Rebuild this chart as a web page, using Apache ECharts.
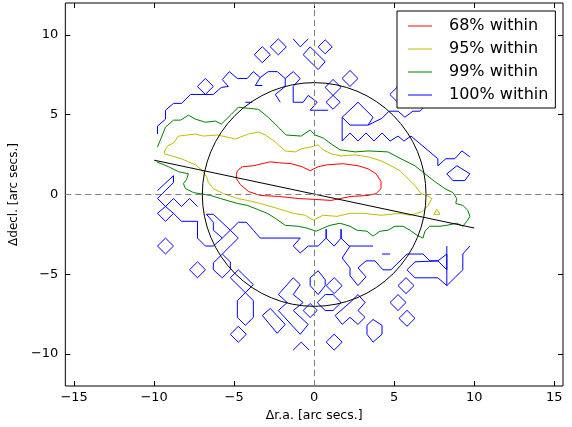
<!DOCTYPE html>
<html>
<head>
<meta charset="utf-8">
<script src="https://cdn.jsdelivr.net/npm/echarts@6/dist/echarts.min.js"></script>
<style>html,body{margin:0;padding:0;background:#fff}#c{width:572px;height:427px}</style>
</head>
<body>
<div id="c"></div>
<script>
// ---- data (arc secs) ----
const xTicks = [-15, -10, -5, 0, 5, 10, 15];
const yTicks = [-10, -5, 0, 5, 10];
const xRange = [-15.55, 15.55];
const yRange = [-12, 12];
const levelNames = ['68% within', '95% within', '99% within', '100% within'];
const levelColors = ['#ff0000', '#bfbf00', '#008000', '#0000ff'];

const circleCenter = [0, 0];
const circleRadius = 7;
const fitLine = [[-10, 2.15], [10, -2.1]];

const contour68 = [
  [[-4.86,1.24],[-4.80,1.49],[-4.49,1.74],[-3.80,1.80],[-2.74,2.05],[-2.24,1.99],[-1.43,1.93],[-0.75,1.74],[-0.25,1.49],[0.25,1.74],[0.81,1.86],[1.81,1.93],[2.74,1.80],[3.37,1.61],[3.87,1.30],[4.18,0.81],[4.18,0.37],[3.87,0.06],[3.37,-0.06],[2.31,-0.12],[1.06,-0.37],[0.06,-0.31],[-1.00,-0.25],[-2.24,-0.12],[-3.37,-0.06],[-4.11,0.19],[-4.61,0.62],[-4.86,0.99],[-4.86,1.24]]
];

const contour95 = [
  [[-9.35,2.73],[-9.16,3.04],[-8.79,3.23],[-8.48,3.66],[-7.42,3.79],[-6.92,3.66],[-6.05,3.73],[-4.92,3.48],[-4.11,3.79],[-3.49,3.91],[-3.05,3.73],[-2.43,3.29],[-1.81,2.73],[-1.18,2.67],[-0.81,2.86],[-0.19,2.98],[0.25,3.11],[0.56,2.80],[1.06,2.55],[1.68,2.42],[2.56,2.48],[3.37,2.36],[4.18,2.11],[4.80,1.80],[5.36,1.49],[5.86,0.99],[6.30,0.56],[6.67,0.06],[7.04,-0.06],[7.36,-0.25],[7.11,-0.68],[6.80,-1.06],[5.99,-1.30],[5.36,-1.18],[4.18,-1.30],[3.05,-1.18],[2.24,-1.18],[1.43,-1.37],[0.56,-1.30],[-0.06,-1.61],[-0.56,-1.30],[-1.31,-1.18],[-2.31,-0.87],[-3.37,-0.56],[-4.18,-0.37],[-4.80,-0.25],[-5.67,0.06],[-6.30,0.37],[-6.61,0.75],[-6.73,1.12],[-7.04,1.55],[-7.42,1.86],[-8.29,2.24],[-8.91,2.42],[-9.35,2.55],[-9.35,2.73]],
  [[7.48,-1.24],[7.67,-0.93],[7.86,-1.24],[7.48,-1.24]]
];

const contour99 = [
  [[-9.79,2.98],[-9.54,3.60],[-9.29,4.22],[-8.79,4.66],[-8.35,4.66],[-7.86,4.97],[-7.42,4.72],[-6.80,4.53],[-6.17,4.60],[-5.80,4.41],[-5.17,5.03],[-4.74,5.47],[-4.11,5.40],[-3.49,5.34],[-2.87,4.84],[-2.24,4.22],[-1.75,3.73],[-0.81,3.66],[-0.25,4.04],[0.06,3.73],[0.56,3.54],[1.06,3.17],[1.62,2.80],[2.56,2.67],[3.37,2.73],[4.61,2.67],[5.42,2.24],[6.30,1.80],[6.92,1.30],[7.54,0.81],[8.17,0.37],[8.67,0.12],[8.91,-0.25],[8.85,-0.56],[9.29,-0.68],[9.60,-0.99],[9.73,-1.37],[9.54,-1.68],[9.29,-1.99],[8.91,-1.80],[8.29,-1.93],[7.86,-1.99],[7.23,-1.99],[6.92,-2.30],[6.80,-2.73],[6.42,-2.55],[5.99,-2.24],[5.55,-1.99],[5.05,-1.99],[4.61,-2.24],[4.11,-2.30],[3.68,-2.61],[3.30,-2.30],[2.68,-2.24],[2.24,-1.99],[1.62,-1.80],[1.00,-1.93],[0.56,-2.11],[0.12,-2.30],[-0.44,-2.11],[-1.00,-1.99],[-1.81,-1.93],[-2.43,-1.49],[-2.93,-1.18],[-3.55,-0.93],[-4.18,-0.68],[-4.80,-0.56],[-5.86,-0.25],[-6.48,-0.06],[-7.54,0.12],[-8.04,0.37],[-8.17,0.68],[-7.98,0.93],[-7.86,1.30],[-8.48,1.43],[-9.10,1.74],[-9.85,2.05]]
];

const contour100 = [
  [[-9.79,3.79],[-9.79,4.29],[-9.29,4.72],[-9.29,5.28],[-8.79,5.71],[-8.29,5.71],[-7.73,6.27],[-6.30,6.27],[-5.80,6.71],[-5.36,6.77],[-5.74,7.20],[-5.30,7.70],[-4.80,7.27],[-4.18,7.27],[-3.80,7.70],[-3.37,7.33],[-2.87,7.70],[-2.31,7.70],[-1.81,7.27],[-1.31,7.70],[-0.87,7.27],[-1.31,6.77],[-1.31,5.78],[-0.69,5.78],[-0.37,6.21],[0.19,5.78],[-0.25,5.28],[0.87,5.28]],
  [[-3.37,7.33],[-3.68,6.83],[-3.24,6.83]],
  [[-1.81,7.27],[-1.81,6.77],[-2.43,6.27],[-2.12,5.78]],
  [[-4.30,5.78],[-3.87,5.78]],
  [[-7.30,6.77],[-6.80,7.27],[-6.30,6.77],[-6.80,6.27],[-7.30,6.77]],
  [[-3.74,8.76],[-3.24,9.26],[-2.74,8.76],[-3.24,8.26],[-3.74,8.76]],
  [[-2.74,9.25],[-2.24,9.75],[-1.74,9.25],[-2.24,8.75],[-2.74,9.25]],
  [[-1.31,9.75],[-0.87,9.25],[-0.37,9.75]],
  [[-0.69,8.76],[-0.25,9.25],[0.69,8.32],[0.25,7.83],[-0.69,8.76]],
  [[0.25,9.25],[0.69,9.69],[1.13,9.25],[0.69,8.81],[0.25,9.25]],
  [[1.74,7.27],[2.24,7.77],[2.74,7.27],[2.24,6.77],[1.74,7.27]],
  [[0.68,6.71],[1.18,7.21],[1.68,6.71],[1.18,6.21],[0.68,6.71]],
  [[0.74,5.78],[1.18,6.21],[1.62,5.78],[1.18,5.34],[0.74,5.78]],
  [[1.75,4.84],[2.74,5.78],[3.68,4.84],[3.37,4.35],[2.24,4.35],[1.75,4.84]],
  [[1.75,4.84],[1.75,3.35],[2.24,3.85],[2.74,3.35],[3.24,3.85],[3.74,3.35],[4.24,3.85],[4.74,3.35],[5.24,3.66],[5.61,3.35],[6.05,3.66],[7.73,2.24],[7.73,1.80],[8.23,2.24],[8.79,2.24],[9.23,2.73],[9.73,2.36]],
  [[8.29,1.30],[8.92,1.80],[9.73,1.30],[9.41,0.87],[8.67,0.87],[8.29,1.30]],
  [[3.37,4.35],[4.24,4.78],[4.68,5.22],[5.24,5.22],[5.67,4.84],[6.17,5.22],[6.61,5.22],[6.92,5.53]],
  [[4.73,6.27],[5.17,6.71],[5.61,6.27],[5.17,5.83],[4.73,6.27]],
  [[-9.79,0.25],[-8.79,1.18],[-8.79,0.75],[-9.79,-0.25],[-9.29,-0.75],[-8.79,-0.25],[-8.29,-0.75],[-7.79,-0.25],[-7.29,-0.75]],
  [[-9.79,-1.18],[-9.29,-0.75],[-8.79,-1.18],[-8.29,-1.68],[-7.29,-1.68],[-7.29,-2.73],[-6.80,-3.23],[-6.30,-3.23],[-5.74,-2.73]],
  [[-9.79,-1.18],[-9.29,-1.68],[-8.79,-1.18]],
  [[-6.73,-1.24],[-6.30,-1.24],[-5.24,-2.24],[-4.74,-1.74],[-4.24,-1.74],[-3.80,-2.24],[-3.37,-2.73],[-0.87,-2.73],[-1.31,-3.23],[-0.87,-3.66],[-0.37,-3.23],[0.25,-3.23],[0.75,-2.73],[0.75,-2.17],[0.75,-2.73],[1.25,-3.23],[1.68,-2.73],[1.68,-2.17],[1.68,-2.73],[2.18,-3.23],[3.68,-3.23]],
  [[-6.73,-1.24],[-6.30,-1.74],[-6.30,-2.24],[-5.74,-2.73],[-5.24,-2.24],[-4.74,-2.73],[-5.24,-3.23],[-5.74,-3.73]],
  [[-6.30,-4.29],[-5.74,-3.73],[-5.24,-4.22],[-5.24,-4.72],[-5.74,-5.22],[-6.30,-4.72],[-6.30,-4.29]],
  [[-5.24,-5.22],[-4.74,-4.72],[-3.80,-5.65],[-4.30,-6.15],[-5.24,-5.22]],
  [[-4.80,-6.65],[-4.30,-6.15],[-3.80,-6.65],[-3.80,-7.70],[-4.30,-8.20],[-4.80,-7.70],[-4.80,-6.65]],
  [[-5.24,-8.76],[-4.74,-8.26],[-4.24,-8.76],[-4.74,-9.26],[-5.24,-8.76]],
  [[-7.79,-4.72],[-7.29,-4.22],[-6.79,-4.72],[-7.29,-5.22],[-7.79,-4.72]],
  [[-9.79,-3.23],[-9.29,-2.73],[-8.79,-3.23],[-9.29,-3.73],[-9.79,-3.23]],
  [[-1.31,-5.22],[-0.87,-5.65],[-1.31,-6.27],[-0.69,-6.77],[-1.31,-7.27],[-0.37,-8.14],[-0.87,-8.76],[-2.24,-7.27],[-1.68,-6.77],[-2.24,-6.27],[-1.31,-5.22]],
  [[-3.24,-7.58],[-2.74,-7.14],[-1.81,-8.14],[-2.31,-8.70],[-3.24,-7.58]],
  [[-0.69,-7.27],[-0.25,-6.83],[0.19,-7.27],[-0.25,-7.71],[-0.69,-7.27]],
  [[-0.25,-5.22],[0.25,-4.78],[0.69,-5.34],[0.69,-5.71],[0.25,-6.27],[-0.25,-5.71],[-0.25,-5.22]],
  [[0.75,-5.71],[1.25,-5.21],[1.75,-5.71],[1.25,-6.21],[0.75,-5.71]],
  [[0.19,-6.77],[0.69,-6.27],[1.18,-6.27],[1.68,-6.77],[1.18,-7.27],[0.69,-7.27],[0.19,-6.77]],
  [[1.31,-7.58],[2.24,-6.77],[2.74,-6.27],[3.18,-6.77],[2.74,-7.27],[3.18,-7.70],[2.74,-8.14],[2.24,-7.70],[1.75,-8.14],[1.31,-7.58]],
  [[3.30,-8.20],[3.68,-7.83],[4.24,-8.20],[4.24,-8.76],[3.68,-9.25],[3.30,-8.76],[3.30,-8.20]],
  [[0.75,-9.25],[1.25,-8.75],[1.75,-9.25],[1.25,-9.75],[0.75,-9.25]],
  [[-1.31,-9.75],[-0.81,-9.25],[-0.31,-9.75]],
  [[2.24,-3.23],[1.75,-3.98],[2.24,-4.60],[2.24,-5.09],[2.74,-5.71],[3.24,-5.16],[2.74,-4.60],[3.24,-4.16],[3.80,-4.16],[4.30,-4.72],[4.80,-4.72],[5.80,-3.73],[6.80,-3.73],[7.23,-4.16],[7.73,-4.16]],
  [[4.24,-3.73],[4.74,-3.73]],
  [[9.73,-3.23],[9.29,-3.73],[9.29,-4.72],[8.29,-5.71],[7.73,-5.22],[6.30,-5.22],[5.80,-4.72],[6.30,-4.22],[7.73,-4.16]],
  [[7.73,-4.16],[8.29,-3.73],[8.29,-4.72],[7.73,-4.16]],
  [[8.29,-3.23],[8.29,-5.71]],
  [[5.24,-5.71],[5.74,-5.21],[6.24,-5.71],[5.74,-6.21],[5.24,-5.71]],
  [[4.74,-6.77],[5.24,-6.27],[5.74,-6.77],[5.24,-7.27],[4.74,-6.77]],
  [[5.30,-7.76],[5.80,-7.26],[6.30,-7.76],[5.80,-8.26],[5.30,-7.76]]
];

const contours = [contour68, contour95, contour99, contour100];

// ---- chart ----
const FONT = 'DejaVu Sans';
const fmt = v => (v < 0 ? '\u2212' + Math.abs(v) : String(v));
const chart = echarts.init(document.getElementById('c'), null, {renderer: 'canvas'});

const series = [];
series.push({
  type: 'line', data: [], silent: true, z: 1,
  markLine: {
    silent: true, symbol: 'none', animation: false,
    label: {show: false},
    lineStyle: {color: '#808080', type: [6, 4], width: 1},
    data: [{xAxis: 0}, {yAxis: 0}]
  }
});
contours.forEach((pieces, li) => {
  pieces.forEach(pts => {
    series.push({
      name: levelNames[li], type: 'line', data: pts,
      showSymbol: false, symbol: 'none', silent: true, animation: false, z: 3,
      lineStyle: {color: levelColors[li], width: 1},
      itemStyle: {color: levelColors[li]}
    });
  });
});
series.push({
  type: 'custom', silent: true, animation: false, z: 4,
  data: [circleCenter],
  renderItem: (params, api) => {
    const c = api.coord([api.value(0), api.value(1)]);
    const s = api.size([circleRadius, circleRadius]);
    return {type: 'circle', shape: {cx: c[0], cy: c[1], r: (s[0] + s[1]) / 2},
      style: {fill: 'none', stroke: '#000', lineWidth: 1}};
  }
});
series.push({
  type: 'line', data: fitLine, showSymbol: false, symbol: 'none', silent: true, animation: false, z: 4,
  lineStyle: {color: '#000', width: 1}
});

const tickStyle = {show: true, inside: true, length: 5, lineStyle: {color: '#000', width: 1}};
const noLine = {show: false, onZero: false};
const option = {
  animation: false,
  backgroundColor: '#fff',
  grid: {left: 64, right: 9, top: 3, bottom: 38, show: true, borderColor: '#000', borderWidth: 1, backgroundColor: 'transparent'},
  legend: {
    data: levelNames, orient: 'vertical', left: 397, top: 11,
    icon: 'rect', itemWidth: 24, itemHeight: 1, itemGap: 5,
    padding: [6, 7, 4, 11],
    backgroundColor: '#fff', borderColor: '#000', borderWidth: 1, borderRadius: 0,
    selectedMode: false,
    textStyle: {fontFamily: FONT, fontSize: 16, color: '#000', lineHeight: 18, padding: [0, 0, 0, 12]}
  },
  xAxis: [
    {type: 'value', min: xRange[0], max: xRange[1], position: 'bottom',
     name: '\u0394r.a. [arc secs.]', nameLocation: 'middle', nameGap: 23,
     nameTextStyle: {fontFamily: FONT, fontSize: 12.5, color: '#000'},
     axisLine: noLine, splitLine: {show: false},
     axisTick: Object.assign({customValues: xTicks}, tickStyle),
     axisLabel: {customValues: xTicks, formatter: fmt, fontFamily: FONT, fontSize: 13, color: '#000', margin: 5}},
    {type: 'value', min: xRange[0], max: xRange[1], position: 'top',
     axisLine: noLine, splitLine: {show: false},
     axisTick: Object.assign({customValues: xTicks}, tickStyle),
     axisLabel: {show: false, customValues: xTicks}}
  ],
  yAxis: [
    {type: 'value', min: yRange[0], max: yRange[1], position: 'left',
     name: '\u0394decl. [arc secs.]', nameLocation: 'middle', nameGap: 35, nameRotate: 90,
     nameTextStyle: {fontFamily: FONT, fontSize: 12, color: '#000'},
     axisLine: noLine, splitLine: {show: false},
     axisTick: Object.assign({customValues: yTicks}, tickStyle),
     axisLabel: {customValues: yTicks, formatter: fmt, fontFamily: FONT, fontSize: 13, color: '#000', margin: 7}},
    {type: 'value', min: yRange[0], max: yRange[1], position: 'right',
     axisLine: noLine, splitLine: {show: false},
     axisTick: Object.assign({customValues: yTicks}, tickStyle),
     axisLabel: {show: false, customValues: yTicks}}
  ],
  series: series
};
chart.setOption(option);
</script>
</body>
</html>
